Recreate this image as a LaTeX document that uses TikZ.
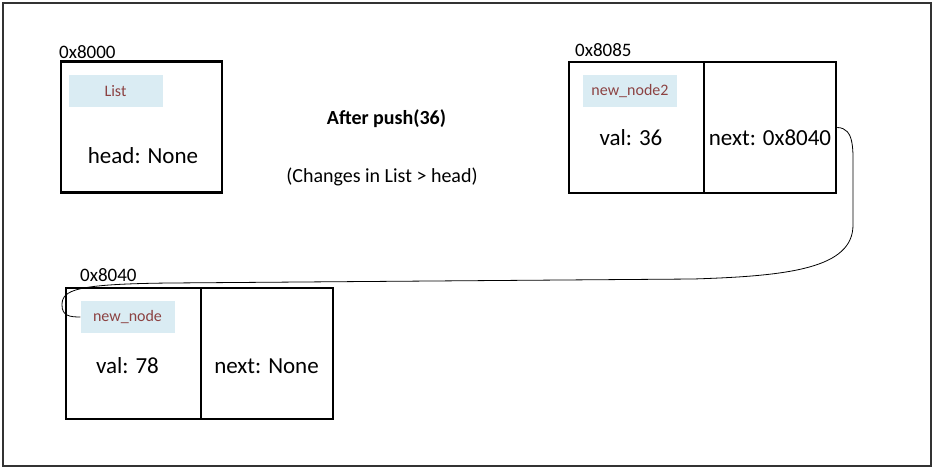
\documentclass[tikz,border=0pt]{standalone}
\usepackage{fontspec}
\setmainfont{Carlito}
\usepackage{tikz}
\usetikzlibrary{positioning}
\definecolor{lblfill}{RGB}{218,236,243}
\definecolor{lbltext}{RGB}{140,66,66}
\definecolor{framegray}{rgb}{0.2,0.2,0.2}

\begin{document}
\begin{tikzpicture}[x=1pt, y=-1pt,
  cell/.style = {draw, line width=2.5pt, inner sep=0pt, minimum height=131pt},
  lbl/.style = {fill=lblfill, text=lbltext, inner sep=0pt, minimum width=94pt,
    minimum height=32pt, font=\fontsize{16}{18}\selectfont},
  txt/.style = {inner sep=0pt, font=\fontsize{23}{26}\selectfont},
  addr/.style = {inner sep=0pt, anchor=base west, font=\fontsize{19}{22}\selectfont}
]
\useasboundingbox (0,0) rectangle (935,469);
\draw[line width=2pt, framegray] (3,3) rectangle (931,466);

% the list object
\node[cell, minimum width=161pt] (list) at (141.5,127) {};
\node[lbl] (listlbl) at (115.5,91) {List};
\node[txt] (head) at (143,156) {head: None};
\node[addr] (listaddr) at (59,58) {0x8000};

\node[font=\fontsize{20}{22}\selectfont\bfseries, inner sep=0pt] (title) at (386.5,119) {After push(36)};
\node[font=\fontsize{20}{22}\selectfont, inner sep=0pt] (note) at (382,177) {(Changes in List > head)};

% new_node2
\node[cell, minimum width=135pt] (nn2val) at (636.5,127.5) {};
\node[cell, minimum width=132pt] (nn2next) at (770,127.5) {};
\node[lbl] (nn2lbl) at (630,91) {new\_node2};
\node[txt] at (631,138) {val: 36};
\node[txt] at (770,138) {next: 0x8040};
\node[addr] (nn2addr) at (575,56) {0x8085};

% new_node
\node[cell, minimum width=135pt] (nnval) at (133.5,353.5) {};
\node[cell, minimum width=132pt] (nnnext) at (267,353.5) {};
\node[lbl] (nnlbl) at (127.5,317) {new\_node};
\node[txt] at (127.5,366) {val: 78};
\node[txt] at (266.5,366) {next: None};
\node[addr] (nnaddr) at (80,281) {0x8040};

% pointer
\draw[line width=0.8pt] (nn2next.east) .. controls (855,128) and (853,150) .. (853,175)
  -- (853,225) .. controls (853,268) and (790,276) .. (693,279)
  -- (170,283) .. controls (75,284) and (62,290) .. (62,305)
  .. controls (62,316) and (70,317) .. (nnlbl.west);
\end{tikzpicture}
\end{document}
